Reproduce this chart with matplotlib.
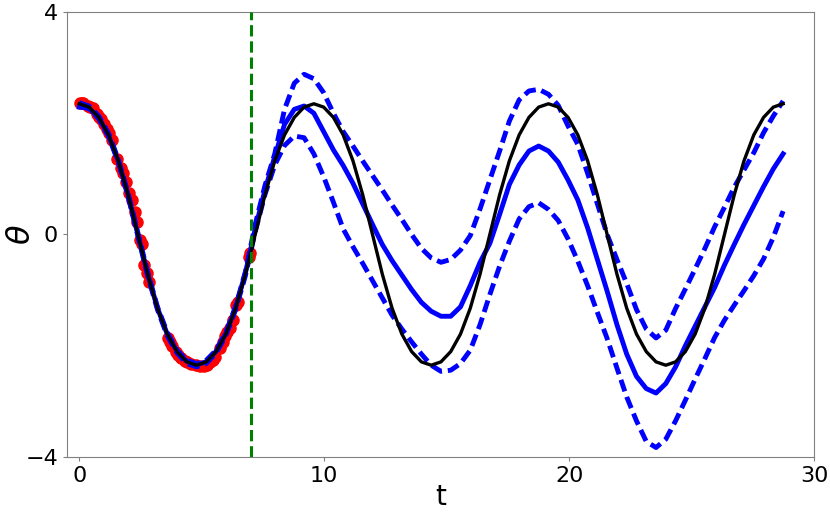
import numpy as np
import matplotlib
matplotlib.use("Agg")
from matplotlib import pyplot as plt

# time grid of the curves
t = np.linspace(0, 28.74, 73)

# true trajectory (black)
theta_true = [2.35, 2.29, 2.105, 1.79, 1.325, 0.712, 0.0, -0.712, -1.325, -1.79, -2.105, -2.29, -2.35,
              -2.29, -2.105, -1.79, -1.325, -0.712, 0.0, 0.712, 1.325, 1.79, 2.105, 2.29, 2.35,
              2.29, 2.105, 1.79, 1.325, 0.712, 0.0, -0.712, -1.325, -1.79, -2.105, -2.29, -2.35,
              -2.29, -2.105, -1.79, -1.325, -0.712, 0.0, 0.712, 1.325, 1.79, 2.105, 2.29, 2.35,
              2.29, 2.105, 1.79, 1.325, 0.712, 0.0, -0.712, -1.325, -1.79, -2.105, -2.29, -2.35,
              -2.29, -2.105, -1.79, -1.325, -0.712, 0.0, 0.712, 1.325, 1.79, 2.105, 2.29, 2.35]

# predicted mean (blue solid)
theta_mean = [2.29, 2.27, 2.10, 1.78, 1.32, 0.71, 0.0, -0.71, -1.32, -1.79, -2.10, -2.28, -2.34,
              -2.29, -2.10, -1.78, -1.31, -0.69,
              0.10, 0.80, 1.40, 1.98, 2.25, 2.31, 2.18,
              1.85, 1.52, 1.24, 0.92, 0.55, 0.18, -0.18, -0.47, -0.73, -0.99, -1.22, -1.38,
              -1.47, -1.47, -1.30, -0.92, -0.50, -0.16, 0.36, 0.90, 1.25, 1.50, 1.59, 1.50,
              1.30, 0.98, 0.62, 0.12, -0.45, -1.02, -1.62, -2.15, -2.55, -2.77, -2.85, -2.68,
              -2.38, -2.00, -1.65, -1.30, -0.95, -0.55, -0.18, 0.18, 0.52, 0.86, 1.18, 1.45]

# upper / lower bounds (blue dashed)
theta_upper = [2.37, 2.31, 2.13, 1.82, 1.35, 0.74, 0.03, -0.68, -1.30, -1.76, -2.08, -2.26, -2.32,
               -2.26, -2.08, -1.76, -1.29, -0.67,
               0.18, 0.88, 1.45, 2.25, 2.72, 2.88, 2.80,
               2.55, 2.18, 1.85, 1.59, 1.32, 1.06, 0.80, 0.53, 0.27, 0.00, -0.25, -0.42,
               -0.50, -0.45, -0.28, -0.02, 0.46, 0.98, 1.50, 2.04, 2.42, 2.58, 2.61, 2.52,
               2.32, 1.95, 1.62, 1.10, 0.55, 0.0, -0.45, -0.88, -1.35, -1.70, -1.86, -1.72,
               -1.33, -0.98, -0.62, -0.25, 0.14, 0.49, 0.85, 1.16, 1.47, 1.83, 2.13, 2.40]

theta_lower = [2.32, 2.26, 2.08, 1.76, 1.30, 0.68, -0.03, -0.74, -1.35, -1.82, -2.13, -2.32, -2.38,
               -2.32, -2.13, -1.82, -1.35, -0.74,
               0.05, 0.72, 1.25, 1.60, 1.77, 1.74, 1.45,
               1.04, 0.58, 0.10, -0.22, -0.52, -0.83, -1.14, -1.45, -1.70, -1.93, -2.15, -2.35,
               -2.46, -2.44, -2.32, -2.08, -1.62, -1.08, -0.57, -0.12, 0.28, 0.50, 0.57, 0.45,
               0.25, -0.08, -0.48, -0.92, -1.40, -1.87, -2.40, -2.92, -3.35, -3.72, -3.83, -3.68,
               -3.35, -2.98, -2.60, -2.23, -1.85, -1.54, -1.27, -1.01, -0.74, -0.44, -0.05, 0.42]

# noisy observations (red)
t_obs = [0.03, 0.10, 0.16, 0.37, 0.45, 0.55, 0.73, 0.80, 0.89, 1.01,
         1.14, 1.20, 1.32, 1.53, 1.69, 1.80, 1.91, 2.04, 2.14, 2.27,
         2.34, 2.48, 2.55, 2.64, 2.75, 2.84, 3.63, 3.72, 3.77,
         3.95, 4.05, 4.15, 4.31, 4.40, 4.55, 4.75, 4.93, 5.09, 5.20,
         5.33, 5.45, 5.54, 5.74, 5.85, 5.95, 6.05, 6.15, 6.29, 6.42,
         6.49, 6.93, 6.97]
theta_obs = [2.36, 2.36, 2.37, 2.31, 2.30, 2.27, 2.16, 2.12, 2.07, 1.98,
             1.89, 1.83, 1.70, 1.35, 1.19, 1.10, 0.95, 0.74, 0.62, 0.41,
             0.23, -0.10, -0.17, -0.55, -0.70, -0.85, -1.86, -1.93, -2.00,
             -2.12, -2.17, -2.22, -2.28, -2.30, -2.32, -2.35, -2.36, -2.36, -2.34,
             -2.30, -2.25, -2.20, -2.04, -1.94, -1.83, -1.75, -1.68, -1.53, -1.27,
             -1.21, -0.40, -0.34]

t_split = 7.0

fig = plt.figure(figsize=(8.3, 5.14), dpi=100)
ax = fig.add_axes([0.0807, 0.1109, 0.9, 0.8658])

ax.plot(t_obs, theta_obs, 'o', color='r', markersize=8, zorder=2)
ax.plot(t, theta_mean, '-', color='b', lw=3.5, zorder=3)
ax.plot(t, theta_upper, color='b', lw=3.5, linestyle=(0, (2.5, 1.2)), zorder=3)
ax.plot(t, theta_lower, color='b', lw=3.5, linestyle=(0, (2.5, 1.2)), zorder=3)
ax.plot(t, theta_true, '-', color='k', lw=2.4, zorder=4)
ax.axvline(t_split, color='g', lw=2.2, linestyle='--', zorder=5)

ax.set_xlim(-0.5, 30)
ax.set_ylim(-4, 4)
ax.set_xticks([0, 10, 20, 30])
ax.set_yticks([-4, 0, 4])
ax.tick_params(labelsize=16, length=3, color='0.5')
for s in ax.spines.values():
    s.set_color('0.5')
ax.set_xlabel('t', fontsize=20)
ax.set_ylabel(r'$\theta$', fontsize=23)
ax.xaxis.set_label_coords(0.5, -0.058)
ax.yaxis.set_label_coords(-0.04, 0.5)

fig.savefig('out.png')
